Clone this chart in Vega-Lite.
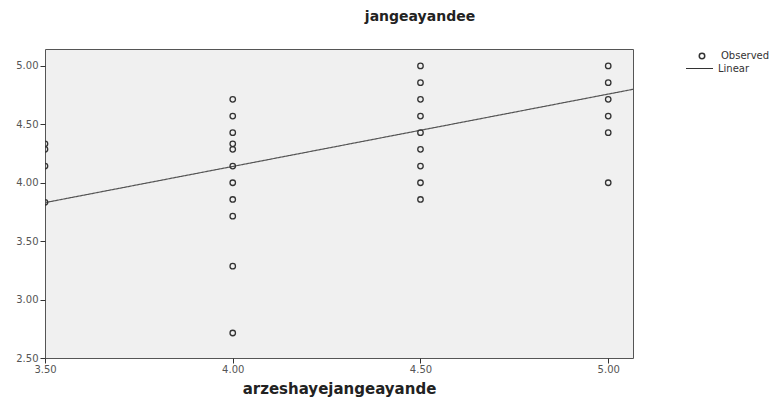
{
  "$schema": "https://vega.github.io/schema/vega-lite/v6.json",
  "width": 588,
  "height": 309,
  "autosize": {"type": "none"},
  "padding": {"left": 45, "top": 49, "right": 148, "bottom": 43},
  "background": "white",
  "config": {
    "view": {"fill": "#f0f0f0", "stroke": "#555555", "strokeWidth": 1},
    "font": "DejaVu Sans",
    "axis": {
      "domain": false,
      "grid": false,
      "tickColor": "#333333",
      "tickSize": 5,
      "labelFont": "DejaVu Sans",
      "labelFontSize": 10,
      "labelColor": "#555555",
      "labelFlush": false,
      "titleFont": "DejaVu Sans",
      "titleFontSize": 15,
      "titleFontWeight": "bold",
      "titleColor": "#222222"
    }
  },
  "title": {
    "text": "jangeayandee",
    "font": "DejaVu Sans",
    "fontSize": 14,
    "fontWeight": "bold",
    "color": "#222222",
    "anchor": "middle",
    "dx": 81,
    "offset": 25
  },
  "datasets": {
    "obs": [
      {"x": 3.5, "y": 4.333},
      {"x": 3.5, "y": 4.286},
      {"x": 3.5, "y": 4.143},
      {"x": 3.5, "y": 3.833},
      {"x": 4.0, "y": 4.714},
      {"x": 4.0, "y": 4.571},
      {"x": 4.0, "y": 4.429},
      {"x": 4.0, "y": 4.333},
      {"x": 4.0, "y": 4.286},
      {"x": 4.0, "y": 4.143},
      {"x": 4.0, "y": 4.0},
      {"x": 4.0, "y": 3.857},
      {"x": 4.0, "y": 3.714},
      {"x": 4.0, "y": 3.286},
      {"x": 4.0, "y": 2.714},
      {"x": 4.5, "y": 5.0},
      {"x": 4.5, "y": 4.857},
      {"x": 4.5, "y": 4.714},
      {"x": 4.5, "y": 4.571},
      {"x": 4.5, "y": 4.429},
      {"x": 4.5, "y": 4.286},
      {"x": 4.5, "y": 4.143},
      {"x": 4.5, "y": 4.0},
      {"x": 4.5, "y": 3.857},
      {"x": 5.0, "y": 5.0},
      {"x": 5.0, "y": 4.857},
      {"x": 5.0, "y": 4.714},
      {"x": 5.0, "y": 4.571},
      {"x": 5.0, "y": 4.429},
      {"x": 5.0, "y": 4.0}
    ],
    "fit": [
      {"x": 3.5, "y": 3.83},
      {"x": 5.066, "y": 4.80}
    ]
  },
  "encoding": {
    "x": {
      "field": "x",
      "type": "quantitative",
      "scale": {"domain": [3.5, 5.066], "nice": false, "zero": false},
      "axis": {"values": [3.5, 4.0, 4.5, 5.0], "format": ".2f", "title": "arzeshayejangeayande", "titlePadding": 7, "labelPadding": 1}
    },
    "y": {
      "field": "y",
      "type": "quantitative",
      "scale": {"domain": [2.5, 5.145], "nice": false, "zero": false},
      "axis": {"values": [2.5, 3.0, 3.5, 4.0, 4.5, 5.0], "format": ".2f", "title": null, "labelPadding": 2}
    }
  },
  "layer": [
    {
      "data": {"name": "fit"},
      "mark": {"type": "line", "color": "#555555", "strokeWidth": 1.2, "clip": true},
      "encoding": {
        "strokeDash": {
          "datum": "Linear",
          "scale": {"domain": ["Linear"], "range": [[1, 0]]},
          "legend": {"title": null, "orient": "none", "legendX": 640, "legendY": 5, "labelFontSize": 10, "labelColor": "#333333", "symbolStrokeColor": "#333333", "symbolStrokeWidth": 1.2, "symbolSize": 729, "labelOffset": 4, "labelFont": "DejaVu Sans"}
        }
      }
    },
    {
      "data": {"name": "obs"},
      "mark": {"type": "point", "filled": false, "color": "#333333", "strokeWidth": 1.3, "size": 30, "opacity": 1, "clip": true},
      "encoding": {
        "shape": {
          "datum": "Observed",
          "scale": {"domain": ["Observed"], "range": ["circle"]},
          "legend": {"title": null, "orient": "none", "legendX": 652, "legendY": 2, "labelFontSize": 10, "labelColor": "#333333", "symbolStrokeColor": "#333333", "symbolSize": 30, "labelOffset": 14, "labelFont": "DejaVu Sans"}
        }
      }
    }
  ]
}
